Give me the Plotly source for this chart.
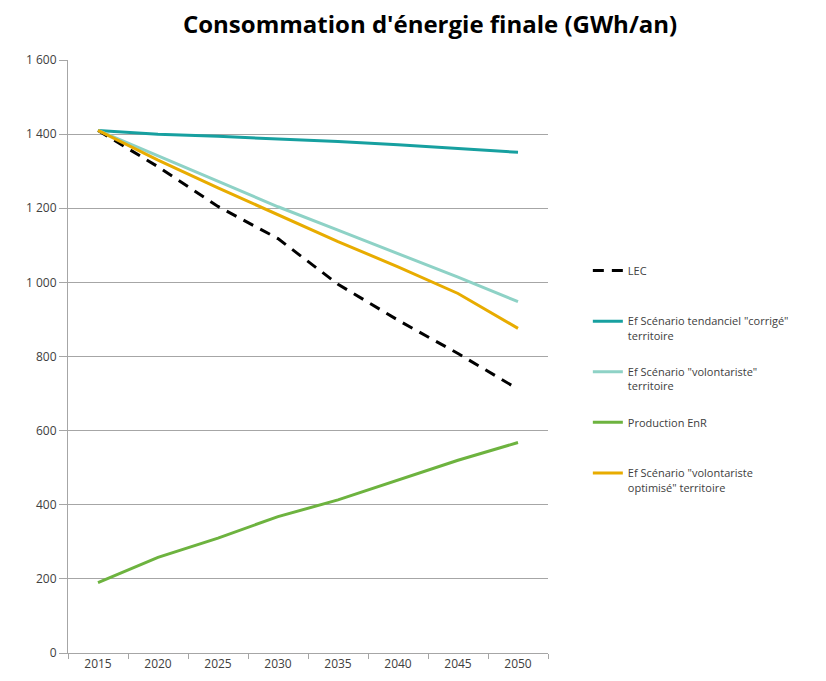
import plotly.graph_objects as go

years = ["2015", "2020", "2025", "2030", "2035", "2040", "2045", "2050"]

lec = [1410, 1312, 1205, 1118, 995, 898, 808, 712]
tendanciel = [1410, 1400, 1394, 1388, 1380, 1371, 1361, 1351]
volontariste = [1410, 1342, 1272, 1204, 1141, 1078, 1014, 948]
production_enr = [190, 258, 310, 368, 413, 467, 520, 568]
optimise = [1410, 1330, 1255, 1182, 1110, 1042, 970, 876]

y_ticks = [0, 200, 400, 600, 800, 1000, 1200, 1400, 1600]

# every legend entry gets two lines so the slots are evenly spaced, as in Excel
series = [
    ("LEC<br> ", lec, "#000000", "11px,8px"),
    ("Ef Scénario tendanciel \"corrigé\"<br>territoire", tendanciel, "#17A0A0", "solid"),
    ("Ef Scénario \"volontariste\"<br>territoire", volontariste, "#8ED2C6", "solid"),
    ("Production EnR<br> ", production_enr, "#6DB33F", "solid"),
    ("Ef Scénario \"volontariste<br>optimisé\" territoire", optimise, "#E8AC00", "solid"),
]

fig = go.Figure()
for i, (name, values, color, dash) in enumerate(series):
    fig.add_trace(
        go.Scatter(
            x=years,
            y=values,
            name=name,
            mode="lines",
            legendgroup=str(i),
            line=dict(color=color, width=3, dash=dash),
        )
    )

fig.update_xaxes(
    type="category",
    range=[-0.5, 7.5],
    automargin=False,
    showline=True,
    linecolor="#A6A6A6",
    linewidth=1,
    ticks="outside",
    tickson="boundaries",
    ticklen=5,
    tickcolor="#A6A6A6",
    showgrid=False,
    tickfont=dict(size=12, color="#404040"),
)
fig.update_yaxes(
    range=[0, 1600],
    automargin=False,
    tickvals=y_ticks,
    tickformat=",d",
    showline=True,
    linecolor="#A6A6A6",
    linewidth=1,
    ticks="outside",
    ticklen=8,
    tickcolor="#A6A6A6",
    gridcolor="#A6A6A6",
    gridwidth=1,
    zeroline=False,
    tickfont=dict(size=12, color="#404040"),
)

# the page body adds 8px around the figure, margins allow for it
fig.update_layout(
    width=826,
    height=681,
    separators=", ",
    font=dict(family="Open Sans, Noto Sans, sans-serif", size=11, color="#404040"),
    title=dict(
        text="<b>Consommation d'énergie finale (GWh/an)</b>",
        x=0.511,
        xanchor="center",
        y=0.976,
        yanchor="middle",
        font=dict(size=24, color="#000000"),
    ),
    margin=dict(l=60, r=286, t=52, b=36),
    plot_bgcolor="white",
    paper_bgcolor="white",
    showlegend=True,
    legend=dict(
        x=1.083,
        xanchor="left",
        y=0.668,
        yanchor="top",
        valign="top",
        tracegroupgap=19,
        font=dict(size=11, color="#404040"),
        bgcolor="rgba(0,0,0,0)",
    ),
)

fig.write_html("out.html")
